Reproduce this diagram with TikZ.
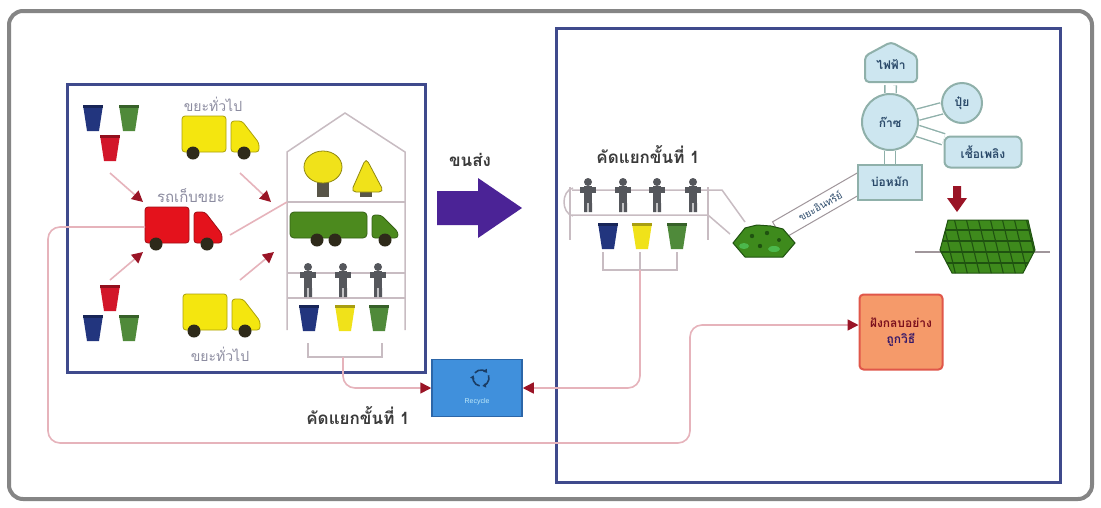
\documentclass[tikz,border=0pt]{standalone}
\usepackage{fontspec}
\setmainfont{Liberation Sans}
\newfontfamily\thai[Script=Thai]{Loma}
\usetikzlibrary{arrows.meta,calc,shapes.geometric}

\definecolor{framegray}{HTML}{858585}
\definecolor{boxblue}{HTML}{3F4A8C}
\definecolor{arrowpurple}{HTML}{4B2396}
\definecolor{linkpink}{HTML}{E6B3BB}
\definecolor{tipred}{HTML}{9A1426}
\definecolor{housegray}{HTML}{C8BCC2}
\definecolor{binblue}{HTML}{22357E}
\definecolor{bingreen}{HTML}{4F8A3A}
\definecolor{binred}{HTML}{D2162A}
\definecolor{binyellow}{HTML}{F0E21A}
\definecolor{truckyellow}{HTML}{F4E60F}
\definecolor{truckred}{HTML}{E4121C}
\definecolor{truckgreen}{HTML}{4C8A1E}
\definecolor{wheel}{HTML}{2E2A1A}
\definecolor{persongray}{HTML}{55575C}
\definecolor{netfill}{HTML}{CDE6F0}
\definecolor{netline}{HTML}{8FB0AA}
\definecolor{nettext}{HTML}{2B4A6A}
\definecolor{recyblue}{HTML}{4090DC}
\definecolor{recyedge}{HTML}{2C66A8}
\definecolor{orangefill}{HTML}{F59A6A}
\definecolor{orangeline}{HTML}{E0574A}
\definecolor{pilegreen}{HTML}{3E8A1C}
\definecolor{piledark}{HTML}{1F5210}
\definecolor{labelgray}{HTML}{8C8CA0}
\definecolor{darktext}{HTML}{3A3A3A}

\tikzset{
  thaisize/.style={font=\thai\fontsize{#1}{#1}\selectfont},
  thaibold/.style={font=\thai\bfseries\fontsize{#1}{#1}\selectfont},
  feed/.style={draw=linkpink, line width=1.6pt,
    -{Triangle[length=11pt,width=11pt,color=tipred]}},
  route/.style={draw=linkpink, line width=1.6pt, rounded corners=12pt,
    -{Triangle[length=11pt,width=11pt,color=tipred]}},
  thin link/.style={draw=linkpink, line width=1.6pt},
  housepen/.style={draw=housegray, line width=1.5pt},
  netlink/.style={draw=netline, line width=1.4pt, double=white, double distance=10pt},
  netbox/.style={fill=netfill, draw=netline, line width=2pt, text=nettext,
    thaibold=12, inner sep=1pt},
  recyarc/.style={draw=recyedge!60!black, line width=1.6pt,
    -{Triangle[length=3.5pt,width=4.5pt]}},
  pics/bin/.style={code={
    \fill[#1] (-10,-13) -- (10,-13) -- (6,13) -- (-6,13) -- cycle;
    \fill[#1!70!black] (-10,-13) rectangle (10,-10);
  }},
  pics/truck/.style={code={
    \filldraw[fill=#1, draw=#1!70!black, line width=0.8pt, rounded corners=3pt]
      (0,0) rectangle (44,-36);
    \filldraw[fill=#1, draw=#1!70!black, line width=0.8pt, rounded corners=3pt]
      (49,0) -- (49,-31) -- (60,-31) -- (77,-9) -- (77,0) -- cycle;
    \fill[wheel] (11,1) circle (6.5) (62,1) circle (6.5);
  }},
  pics/person/.style={code={
    \fill[persongray] (0,-13) circle (4);
    \fill[persongray] (-8,-8) rectangle (8,-2);
    \fill[persongray] (-4,-9) rectangle (4,8);
    \fill[persongray] (-4,8) rectangle (-0.7,17) (0.7,8) rectangle (4,17);
  }},
}

\begin{document}
\begin{tikzpicture}[x=1pt,y=-1pt]
\useasboundingbox (0,0) rectangle (1101,507);

% outer frame
\fill[white] (0,0) rectangle (1101,507);
\draw[framegray, line width=4pt, rounded corners=14pt] (9,11) rectangle (1092,499);

% the two areas
\draw[boxblue, line width=3pt] (67,84) rectangle (425,372);
\draw[boxblue, line width=3pt] (556,28) rectangle (1060,482);

% ---------- collection area ----------
\pic at (93,118) {bin=binblue};
\pic at (129,118) {bin=bingreen};
\pic at (110,148) {bin=binred};
\pic at (110,298) {bin=binred};
\pic at (93,328) {bin=binblue};
\pic at (129,328) {bin=bingreen};

\pic at (182,152) {truck=truckyellow};
\pic at (145,243) {truck=truckred};
\pic at (183,330) {truck=truckyellow};

\node[thaisize=14, text=labelgray] (toplabel) at (213,104) {ขยะทั่วไป};
\node[thaisize=15, text=labelgray] (redlabel) at (191,196) {รถเก็บขยะ};
\node[thaisize=14, text=labelgray] (botlabel) at (220,354) {ขยะทั่วไป};

% transfer station
\draw[housepen] (287,330) -- (287,152) -- (345,113) -- (405,152) -- (405,330);
\coordinate (floorL) at (287,202);
\coordinate (floorR) at (405,202);
\draw[housepen] (floorL) -- (floorR);
% trees
\fill[wheel!80] (317,180) rectangle (329,197);
\filldraw[fill=binyellow, draw=binyellow!60!black, line width=0.8pt] (323,167) ellipse (19 and 16);
\fill[wheel!80] (360,186) rectangle (372,197);
\filldraw[fill=binyellow, draw=binyellow!60!black, line width=0.8pt, rounded corners=5pt]
  (366,158) -- (384,192) -- (351,192) -- cycle;
% long green truck
\filldraw[fill=truckgreen, draw=truckgreen!70!black, line width=0.8pt, rounded corners=4pt]
  (290,212) rectangle (367,238);
\filldraw[fill=truckgreen, draw=truckgreen!70!black, line width=0.8pt, rounded corners=3pt]
  (372,238) -- (372,215) -- (381,215) -- (398,232) -- (398,238) -- cycle;
\fill[wheel] (317,240) circle (6.5) (335,240) circle (6.5) (385,240) circle (6.5);
% sorting rack
\draw[housepen] (287,273) -- (405,273) (287,298) -- (405,298);
\pic at (308,280) {person};
\pic at (343,280) {person};
\pic at (378,280) {person};
\pic at (309,318) {bin=binblue};
\pic at (345,318) {bin=binyellow};
\pic at (379,318) {bin=bingreen};
\draw[housepen] (308,343) -- (308,357) -- (382,357) -- (382,343);
\coordinate (leftsort) at (343,357);

% collection arrows
\coordinate (bintop) at (110,173);
\coordinate (redin1) at (143,202);
\coordinate (bintbot) at (110,280);
\coordinate (redin2) at (143,252);
\coordinate (ytop) at (240,173);
\coordinate (housein1) at (271,202);
\coordinate (ybot) at (240,280);
\coordinate (housein2) at (274,252);
\draw[feed] (bintop) -- (redin1);
\draw[feed] (bintbot) -- (redin2);
\draw[feed] (ytop) -- (housein1);
\draw[feed] (ybot) -- (housein2);
\coordinate (redcab) at (230,235);
\draw[thin link] (redcab) -- (floorL);

% transport arrow
\coordinate (transport) at (479,208);
\fill[arrowpurple] (437,191) -- (478,191) -- (478,178) -- (522,208) -- (478,238)
  -- (478,225) -- (437,225) -- cycle;
\node[thaibold=17, text=darktext] (transportlabel) at (470,160) {ขนส่ง};

% ---------- treatment area ----------
\node[thaibold=17, text=darktext] (sortlabelR) at (648,155) {คัดแยกขั้นที่ 1};
\draw[housepen] (570,187) -- (570,240) (708,187) -- (708,240);
\draw[housepen] (572,190) -- (722,190) -- (745,222);
\draw[housepen] (572,215) -- (708,215) -- (730,234);
\draw[housepen] (573,188) .. controls (561,191) and (561,213) .. (573,216);
\pic at (588,195) {person};
\pic at (623,195) {person};
\pic at (657,195) {person};
\pic at (693,195) {person};
\pic at (608,236) {bin=binblue};
\pic at (642,236) {bin=binyellow};
\pic at (677,236) {bin=bingreen};
\draw[housepen] (603,252) -- (603,270) -- (677,270) -- (677,252);
\draw[housepen] (640,252) -- (640,270);
\coordinate (rightsort) at (640,270);

% chute to the digester
\node[draw=housegray!80!black, line width=1pt, fill=white, rotate=30,
  minimum width=98pt, minimum height=20pt, inner sep=0pt,
  thaisize=10, text=nettext] (organic) at (820,206) {ขยะอินทรีย์};

% organic pile
\filldraw[fill=pilegreen, draw=piledark, line width=1pt]
  (733,243) -- (745,228) -- (757,225) -- (771,226) -- (783,229) -- (795,243)
  -- (783,257) -- (745,257) -- cycle;
\fill[piledark] (752,236) circle (2.2) (767,233) circle (2.2) (779,240) circle (2) (760,246) circle (2.2);
\fill[green!60!black!70] (744,246) ellipse (5 and 3) (774,249) ellipse (6 and 3);

% energy network
\node[netbox, minimum width=64pt, minimum height=35pt] (digest) at (890,182) {บ่อหมัก};
\node[netbox, circle, minimum size=56pt] (gas) at (890,122) {ก๊าซ};
\node[netbox, circle, minimum size=40pt] (fert) at (962,103) {ปุ๋ย};
\node[netbox, rounded corners=6pt, minimum width=77pt, minimum height=31pt] (fuel) at (983,152) {เชื้อเพลิง};
\filldraw[fill=netfill, draw=netline, line width=2pt, rounded corners=4pt]
  (865,82) -- (865,56) -- (891,42) -- (917,56) -- (917,82) -- cycle;
\node[text=nettext, thaibold=12, minimum width=52pt, minimum height=40pt, inner sep=0pt] (elec) at (891,65) {ไฟฟ้า};
\draw[netlink] (gas) -- (elec);
\draw[netlink] (gas) -- (digest);
\draw[netlink] (gas) -- (fert);
\draw[netlink] (gas) -- (fuel);

% to the field
\fill[tipred] (953,186) -- (961,186) -- (961,198) -- (967,198) -- (957,212)
  -- (947,198) -- (953,198) -- cycle;
\coordinate (fieldL) at (915,252);
\coordinate (fieldR) at (1050,252);
\draw[housegray!80!black, line width=1.2pt] (fieldL) -- (fieldR);
\begin{scope}
  \path[clip] (948,220) -- (1028,220) -- (1035,250) -- (1023,273) -- (952,273) -- (940,250) -- cycle;
  \fill[pilegreen] (930,215) rectangle (1040,280);
  \foreach \y in {230,241,252,263} { \draw[piledark, line width=1.3pt] (935,\y) -- (1040,\y); }
  \foreach \x in {930,942,...,1045} { \draw[piledark, line width=1.1pt] (\x,218) -- (\x+14,276); }
\end{scope}
\draw[piledark, line width=1pt] (948,220) -- (1028,220) -- (1035,250) -- (1023,273) -- (952,273) -- (940,250) -- cycle;

% landfill
\node[fill=orangefill, draw=orangeline, line width=2pt, rounded corners=4pt,
  minimum width=83pt, minimum height=75pt, inner sep=2pt, align=center, thaibold=12,
  text=tipred!80!black] (landfill) at (901,332) {ฝังกลบอย่าง\\[4pt]\textcolor{arrowpurple!70!black}{ถูกวิธี}};

% recycling
\node[fill=recyblue, draw=recyedge, line width=1.5pt, minimum width=90pt,
  minimum height=57pt] (recycle) at (477,388) {};
\coordinate (recysign) at (481,378);
\draw[recyarc] ([shift={(100:8)}]recysign) arc (100:200:8);
\draw[recyarc] ([shift={(220:8)}]recysign) arc (220:320:8);
\draw[recyarc] ([shift={(340:8)}]recysign) arc (340:440:8);
\node[font=\fontsize{7}{7}\selectfont, text=cyan!25] (recytext) at (477,402) {Recycle};

\node[thaibold=17, text=darktext] (sortlabelL) at (358,416) {คัดแยกขั้นที่ 1};

% flows to recycling and landfill
\draw[route] (leftsort) |- (recycle.west);
\draw[route] (rightsort) |- (recycle.east);
\coordinate (redback) at (145,227);
\draw[route] (redback) -- (48,227) -- (48,443) -- (690,443) -- (690,325) -- (landfill.west |- 0,325);
\end{tikzpicture}
\end{document}
